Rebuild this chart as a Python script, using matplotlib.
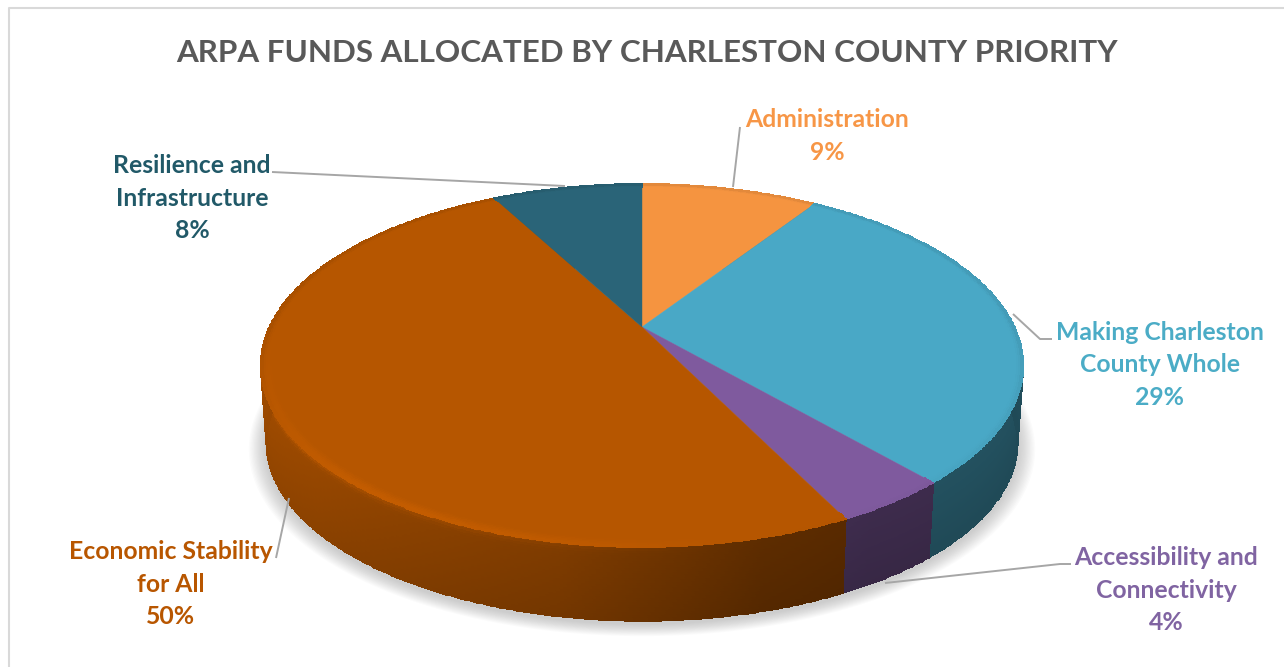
import numpy as np
import matplotlib
matplotlib.use("Agg")
import matplotlib.pyplot as plt
from matplotlib.colors import to_rgb

categories = ["Administration", "Making Charleston\nCounty Whole", "Accessibility and\nConnectivity",
              "Economic Stability\nfor All", "Resilience and\nInfrastructure"]
values = [9.2, 29.4, 4.1, 49.5, 7.8]
face_colors = ["#F59440", "#49A8C6", "#7F5A9E", "#B65600", "#2A6478"]
text_colors = ["#F79646", "#4BACC6", "#8064A2", "#B85600", "#215968"]
title = "ARPA FUNDS ALLOCATED BY CHARLESTON COUNTY PRIORITY"

# label centre x, y, and leader line points (pixels)
label_pos = [(827, 136), (1160, 365), (1166, 590), (171, 584), (192, 198)]
leaders = [
    [(733, 187), (740, 127)],
    [(1013, 314), (1040, 339), (1052, 339)],
    [(885, 583), (1060, 564), (1071, 564)],
    [(289, 498), (276, 558)],
    [(565, 186), (272, 172)],
]

plt.rcParams["font.family"] = ["Lato", "DejaVu Sans"]
fig = plt.figure(figsize=(12.84, 6.67), dpi=100)
ax = fig.add_axes([0, 0, 1, 1])
ax.set_xlim(0, 1284); ax.set_ylim(667, 0); ax.axis("off")

# perspective disc
CX, CY, A, B, K = 642, 327, 372.5, 173.3, 0.212

def top_xy(theta, r=1.0):
    u, v = r*np.sin(theta), r*np.cos(theta)
    w = 1 + K*v
    return CX + A*u/w, CY - B*v/w

def bottom_xy(theta, r=1.0, dy=0):
    u, v = r*np.sin(theta), r*np.cos(theta)
    w = 1 + K*v
    return CX + 0.985*A*u/w, 405 + dy - 170*v/w

def side_shade(theta):
    deg = np.degrees(theta)
    return np.interp(deg, [0, 150, 165, 190, 230, 265, 360], [.47, .47, .5, .68, .82, .9, .9])

fracs = np.array(values)/sum(values)
edges = np.concatenate([[0], np.cumsum(fracs)])*2*np.pi

# frame
ax.plot([9, 9, 1284], [667, 8, 8], color="#D9D9D9", lw=1.5)

# soft shadow under the pie
full = np.linspace(0, 2*np.pi, 400)
for i in range(14):
    sx, sy = bottom_xy(full, r=1.0 + 0.0032*(14-i), dy=3)
    ax.fill(sx, sy, color="#808080", alpha=0.03, lw=0)

# side walls
for i, c in enumerate(face_colors):
    base = np.array(to_rgb(c))
    th = np.linspace(edges[i], edges[i+1], max(int(values[i]*8), 8))
    t = np.linspace(0, 1, 31)
    TH, T = np.meshgrid(th, t)
    xt, yt = top_xy(TH); xb, yb = bottom_xy(TH)
    X = xt + (xb-xt)*T
    Y = yt + (yb-yt)*T
    thc = (TH[:-1, :-1] + TH[1:, 1:])/2
    tc = (T[:-1, :-1] + T[1:, 1:])/2
    sh = side_shade(thc)*(1.03 - 0.10*tc)
    # lighter band right below the rim
    glow = np.exp(-(tc/0.07)**2)*np.clip((np.degrees(thc)-170)/80, 0, 1)*0.22
    rgb = np.clip(base[None, None, :]*(sh + glow)[..., None], 0, 1)
    ax.pcolormesh(X, Y, rgb, shading="flat", edgecolors="face", linewidth=0.2)

# top face
for i, c in enumerate(face_colors):
    th = np.linspace(edges[i], edges[i+1], max(int(values[i]*8), 8))
    x, y = top_xy(th)
    ax.fill(np.r_[CX, x], np.r_[CY, y], color=c, lw=0.3, ec=c)

# bevel along the rim of the top face
for i, c in enumerate(face_colors):
    base = np.array(to_rgb(c))
    th = np.linspace(edges[i], edges[i+1], max(int(values[i]*8), 8))
    r = np.linspace(0.975, 1.0, 6)
    TH, R = np.meshgrid(th, r)
    X, Y = top_xy(TH, R)
    thc = (TH[:-1, :-1] + TH[1:, 1:])/2
    rc = (R[:-1, :-1] + R[1:, 1:])/2
    ramp = (rc-0.975)/0.025
    front = np.clip(-np.cos(thc), 0, 1)
    sh = 1 + 0.13*front*np.clip((np.degrees(thc)-170)/50, 0, 1)*ramp - 0.10*ramp**3*(1-front)
    rgb = np.clip(base[None, None, :]*sh[..., None], 0, 1)
    ax.pcolormesh(X, Y, rgb, shading="flat", edgecolors="face", linewidth=0.2)

# leader lines
for pts in leaders:
    ax.plot(*zip(*pts), color="#A6A6A6", lw=1.4, solid_capstyle="butt")

# labels
for name, val, pos, col in zip(categories, values, label_pos, text_colors):
    ax.text(pos[0], pos[1], f"{name}\n{val:.0f}%", color=col, ha="center", va="center",
            fontsize=17.8, fontweight="bold", linespacing=1.52)

ax.text(647, 53, title, color="#595959", ha="center", va="center", fontsize=22.6, fontweight="bold")

fig.savefig("out.png", dpi=100)
